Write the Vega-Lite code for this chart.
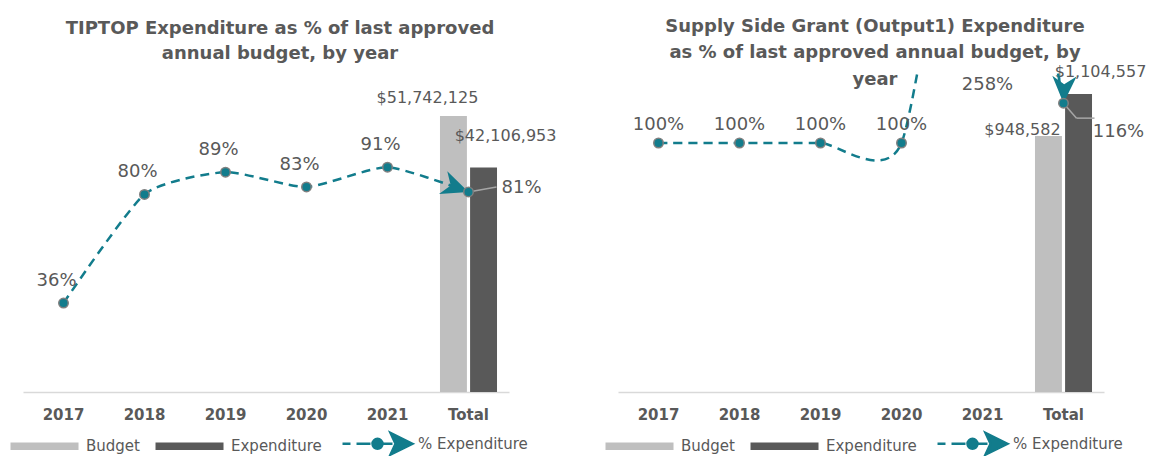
{
  "$schema": "https://vega.github.io/schema/vega-lite/v6.json",
  "background": "white",
  "padding": {"left": 23, "top": 17, "right": 2, "bottom": 0},
  "datasets": {
    "tiptop_bars": [
      {"year": "Total", "type": "Budget", "value": 51742125},
      {"year": "Total", "type": "Expenditure", "value": 42106953}
    ],
    "tiptop_pct": [
      {"year": "2017", "pct": 0.36},
      {"year": "2018", "pct": 0.80},
      {"year": "2019", "pct": 0.89},
      {"year": "2020", "pct": 0.83},
      {"year": "2021", "pct": 0.91},
      {"year": "Total", "pct": 0.81}
    ],
    "ssg_bars": [
      {"year": "Total", "type": "Budget", "value": 948582},
      {"year": "Total", "type": "Expenditure", "value": 1104557}
    ],
    "ssg_pct": [
      {"year": "2017", "pct": 1.00},
      {"year": "2018", "pct": 1.00},
      {"year": "2019", "pct": 1.00},
      {"year": "2020", "pct": 1.00},
      {"year": "2021", "pct": 2.58},
      {"year": "Total", "pct": 1.16}
    ]
  },
  "config": {
    "view": {"stroke": null},
    "font": "DejaVu Sans"
  },
  "bounds": "flush",
  "spacing": 109,
  "resolve": {
    "scale": {"color": "independent", "x": "independent", "y": "independent"},
    "legend": {"color": "independent"}
  },
  "hconcat": [
    {
      "width": 486,
      "height": 320,
      "title": {
        "text": ["TIPTOP Expenditure as % of last approved", "annual budget, by year"],
        "fontSize": 18, "fontWeight": "bold", "color": "#595959",
        "lineHeight": 25, "offset": 9, "anchor": "middle", "dx": 14
      },
      "encoding": {
        "x": {
          "field": "year", "type": "nominal",
          "scale": {"domain": ["2017", "2018", "2019", "2020", "2021", "Total"], "paddingInner": 0.296, "paddingOuter": 0.148},
          "axis": {
            "title": null, "labelAngle": 0, "labelFontSize": 15, "labelFontWeight": "bold",
            "labelColor": "#595959", "ticks": false, "labelPadding": 15,
            "domainColor": "#D9D9D9", "domainWidth": 1.5, "grid": false
          }
        }
      },
      "resolve": {"scale": {"y": "independent"}},
      "layer": [
        {
          "data": {"name": "tiptop_bars"},
          "mark": {"type": "bar"},
          "encoding": {
            "xOffset": {"field": "type", "scale": {"domain": ["Budget", "Expenditure"], "paddingInner": 0.105, "paddingOuter": 0}},
            "y": {"field": "value", "type": "quantitative", "scale": {"domain": [0, 59991000]}, "axis": null},
            "color": {
              "field": "type", "type": "nominal",
              "scale": {"domain": ["Budget", "Expenditure", "% Expenditure"], "range": ["#BFBFBF", "#595959", "#127C8C"]},
              "legend": {
                "orient": "bottom", "direction": "horizontal", "title": null,
                "labelFontSize": 15, "labelColor": "#595959", "symbolSize": 4624,
                "labelOffset": 48, "columnPadding": 15, "offset": 14, "symbolOpacity": 1,
                "encode": {
                  "symbols": {
                    "update": {
                      "shape": {"signal": "datum.value === '% Expenditure' ? 'M-0.588,0H-0.353M-0.176,0H0.235M0.588,0H0.882M1.471,0L0.824,-0.32L0.971,0L0.824,0.32ZM0.294,0a0.147,0.147 0 1,0 0.294,0a0.147,0.147 0 1,0 -0.294,0' : 'M-0.588,-0.32L-0.588,-0.32M-0.588,0.32L-0.588,0.32M-0.588,-0.11H1.412V0.11H-0.588Z'"},
                      "strokeWidth": {"signal": "datum.value === '% Expenditure' ? 2.5 : 0"},
                      "stroke": {"signal": "datum.value === '% Expenditure' ? '#127C8C' : null"}
                    }
                  }
                }
              }
            }
          }
        },
        {
          "data": {"name": "tiptop_bars"},
          "transform": [{"filter": "datum.type === 'Budget'"}],
          "mark": {"type": "text", "fontSize": 16, "color": "#595959", "dx": -26, "dy": -18},
          "encoding": {
            "xOffset": {"field": "type", "scale": {"domain": ["Budget", "Expenditure"], "paddingInner": 0.105, "paddingOuter": 0}},
            "y": {"field": "value", "type": "quantitative", "scale": {"domain": [0, 59991000]}, "axis": null},
            "text": {"field": "value", "type": "quantitative", "format": "$,.0f"}
          }
        },
        {
          "data": {"name": "tiptop_bars"},
          "transform": [{"filter": "datum.type === 'Expenditure'"}],
          "mark": {"type": "text", "fontSize": 16, "color": "#595959", "dx": 22, "dy": -31},
          "encoding": {
            "xOffset": {"field": "type", "scale": {"domain": ["Budget", "Expenditure"], "paddingInner": 0.105, "paddingOuter": 0}},
            "y": {"field": "value", "type": "quantitative", "scale": {"domain": [0, 59991000]}, "axis": null},
            "text": {"field": "value", "type": "quantitative", "format": "$,.0f"}
          }
        },
        {
          "data": {"name": "tiptop_pct"},
          "mark": {"type": "line", "color": "#127C8C", "strokeWidth": 2.5, "strokeDash": [9, 6], "interpolate": "cardinal", "tension": 0.4, "clip": true},
          "encoding": {
            "y": {"field": "pct", "type": "quantitative", "scale": {"domain": [0, 1.2955]}, "axis": null}
          }
        },
        {
          "data": {"name": "tiptop_pct"},
          "transform": [{"filter": "datum.year === 'Total'"}],
          "mark": {"type": "rule", "color": "#A6A6A6", "strokeWidth": 1.5, "x2Offset": 28, "y2Offset": -5},
          "encoding": {
            "y": {"field": "pct", "type": "quantitative", "scale": {"domain": [0, 1.2955]}, "axis": null},
            "x2": {"field": "year"},
            "y2": {"field": "pct"}
          }
        },
        {
          "data": {"name": "tiptop_pct"},
          "transform": [{"filter": "datum.year === 'Total'"}],
          "mark": {"type": "point", "shape": "M0,0L-1,-0.45L-0.7,0L-1,0.45Z", "angle": 20, "filled": true, "color": "#127C8C", "size": 2916, "opacity": 1},
          "encoding": {
            "y": {"field": "pct", "type": "quantitative", "scale": {"domain": [0, 1.2955]}, "axis": null}
          }
        },
        {
          "data": {"name": "tiptop_pct"},
          "mark": {"type": "point", "shape": "circle", "filled": true, "fill": "#127C8C", "stroke": "#7F7F7F", "strokeWidth": 1.5, "size": 90, "opacity": 1},
          "encoding": {
            "y": {"field": "pct", "type": "quantitative", "scale": {"domain": [0, 1.2955]}, "axis": null}
          }
        },
        {
          "data": {"name": "tiptop_pct"},
          "transform": [{"filter": "datum.year !== 'Total'"}],
          "mark": {"type": "text", "fontSize": 18, "color": "#595959", "dx": -7, "dy": -22},
          "encoding": {
            "y": {"field": "pct", "type": "quantitative", "scale": {"domain": [0, 1.2955]}, "axis": null},
            "text": {"field": "pct", "type": "quantitative", "format": ".0%"}
          }
        },
        {
          "data": {"name": "tiptop_pct"},
          "transform": [{"filter": "datum.year === 'Total'"}],
          "mark": {"type": "text", "fontSize": 18, "color": "#595959", "dx": 53, "dy": -4},
          "encoding": {
            "y": {"field": "pct", "type": "quantitative", "scale": {"domain": [0, 1.2955]}, "axis": null},
            "text": {"field": "pct", "type": "quantitative", "format": ".0%"}
          }
        }
      ]
    },
    {
      "width": 486,
      "height": 320,
      "title": {
        "text": ["Supply Side Grant (Output1) Expenditure", "as % of last approved annual budget, by", "year"],
        "fontSize": 18, "fontWeight": "bold", "color": "#595959",
        "lineHeight": 26.5, "offset": -25, "anchor": "middle", "dx": 14
      },
      "encoding": {
        "x": {
          "field": "year", "type": "nominal",
          "scale": {"domain": ["2017", "2018", "2019", "2020", "2021", "Total"], "paddingInner": 0.296, "paddingOuter": 0.148},
          "axis": {
            "title": null, "labelAngle": 0, "labelFontSize": 15, "labelFontWeight": "bold",
            "labelColor": "#595959", "ticks": false, "labelPadding": 15,
            "domainColor": "#D9D9D9", "domainWidth": 1.5, "grid": false
          }
        }
      },
      "resolve": {"scale": {"y": "independent"}},
      "layer": [
        {
          "data": {"name": "ssg_bars"},
          "mark": {"type": "bar"},
          "encoding": {
            "xOffset": {"field": "type", "scale": {"domain": ["Budget", "Expenditure"], "paddingInner": 0.105, "paddingOuter": 0}},
            "y": {"field": "value", "type": "quantitative", "scale": {"domain": [0, 1185728]}, "axis": null},
            "color": {
              "field": "type", "type": "nominal",
              "scale": {"domain": ["Budget", "Expenditure", "% Expenditure"], "range": ["#BFBFBF", "#595959", "#127C8C"]},
              "legend": {
                "orient": "bottom", "direction": "horizontal", "title": null,
                "labelFontSize": 15, "labelColor": "#595959", "symbolSize": 4624,
                "labelOffset": 48, "columnPadding": 15, "offset": 14, "symbolOpacity": 1,
                "encode": {
                  "symbols": {
                    "update": {
                      "shape": {"signal": "datum.value === '% Expenditure' ? 'M-0.588,0H-0.353M-0.176,0H0.235M0.588,0H0.882M1.471,0L0.824,-0.32L0.971,0L0.824,0.32ZM0.294,0a0.147,0.147 0 1,0 0.294,0a0.147,0.147 0 1,0 -0.294,0' : 'M-0.588,-0.32L-0.588,-0.32M-0.588,0.32L-0.588,0.32M-0.588,-0.11H1.412V0.11H-0.588Z'"},
                      "strokeWidth": {"signal": "datum.value === '% Expenditure' ? 2.5 : 0"},
                      "stroke": {"signal": "datum.value === '% Expenditure' ? '#127C8C' : null"}
                    }
                  }
                }
              }
            }
          }
        },
        {
          "data": {"name": "ssg_bars"},
          "transform": [{"filter": "datum.type === 'Budget'"}],
          "mark": {"type": "text", "fontSize": 16, "color": "#595959", "dx": -26, "dy": -6},
          "encoding": {
            "xOffset": {"field": "type", "scale": {"domain": ["Budget", "Expenditure"], "paddingInner": 0.105, "paddingOuter": 0}},
            "y": {"field": "value", "type": "quantitative", "scale": {"domain": [0, 1185728]}, "axis": null},
            "text": {"field": "value", "type": "quantitative", "format": "$,.0f"}
          }
        },
        {
          "data": {"name": "ssg_bars"},
          "transform": [{"filter": "datum.type === 'Expenditure'"}],
          "mark": {"type": "text", "fontSize": 16, "color": "#595959", "dx": 22, "dy": -22},
          "encoding": {
            "xOffset": {"field": "type", "scale": {"domain": ["Budget", "Expenditure"], "paddingInner": 0.105, "paddingOuter": 0}},
            "y": {"field": "value", "type": "quantitative", "scale": {"domain": [0, 1185728]}, "axis": null},
            "text": {"field": "value", "type": "quantitative", "format": "$,.0f"}
          }
        },
        {
          "data": {"name": "ssg_pct"},
          "mark": {"type": "line", "color": "#127C8C", "strokeWidth": 2.5, "strokeDash": [9, 6], "interpolate": "cardinal", "tension": 0.4, "clip": true},
          "encoding": {
            "y": {"field": "pct", "type": "quantitative", "scale": {"domain": [0, 1.2851]}, "axis": null}
          }
        },
        {
          "data": {"name": "ssg_pct"},
          "transform": [{"filter": "datum.year === 'Total'"}],
          "mark": {"type": "rule", "color": "#A6A6A6", "strokeWidth": 1.5, "x2Offset": 13, "y2Offset": 15},
          "encoding": {
            "y": {"field": "pct", "type": "quantitative", "scale": {"domain": [0, 1.2851]}, "axis": null},
            "x2": {"field": "year"},
            "y2": {"field": "pct"}
          }
        },
        {
          "data": {"name": "ssg_pct"},
          "transform": [{"filter": "datum.year === 'Total'"}],
          "mark": {"type": "rule", "color": "#A6A6A6", "strokeWidth": 1.5, "xOffset": 13, "yOffset": 15, "x2Offset": 31, "y2Offset": 15},
          "encoding": {
            "y": {"field": "pct", "type": "quantitative", "scale": {"domain": [0, 1.2851]}, "axis": null},
            "x2": {"field": "year"},
            "y2": {"field": "pct"}
          }
        },
        {
          "data": {"name": "ssg_pct"},
          "transform": [{"filter": "datum.year === 'Total'"}],
          "mark": {"type": "point", "shape": "M0,0L-1,-0.45L-0.7,0L-1,0.45Z", "angle": 92, "filled": true, "color": "#127C8C", "size": 2916, "opacity": 1},
          "encoding": {
            "y": {"field": "pct", "type": "quantitative", "scale": {"domain": [0, 1.2851]}, "axis": null}
          }
        },
        {
          "data": {"name": "ssg_pct"},
          "transform": [{"filter": "datum.year !== '2021'"}],
          "mark": {"type": "point", "shape": "circle", "filled": true, "fill": "#127C8C", "stroke": "#7F7F7F", "strokeWidth": 1.5, "size": 90, "opacity": 1},
          "encoding": {
            "y": {"field": "pct", "type": "quantitative", "scale": {"domain": [0, 1.2851]}, "axis": null}
          }
        },
        {
          "data": {"name": "ssg_pct"},
          "transform": [{"filter": "datum.year !== 'Total' && datum.year !== '2021'"}],
          "mark": {"type": "text", "fontSize": 18, "color": "#595959", "dy": -18},
          "encoding": {
            "y": {"field": "pct", "type": "quantitative", "scale": {"domain": [0, 1.2851]}, "axis": null},
            "text": {"field": "pct", "type": "quantitative", "format": ".0%"}
          }
        },
        {
          "data": {"name": "ssg_pct"},
          "transform": [{"filter": "datum.year === '2021'"}],
          "mark": {"type": "text", "fontSize": 18, "color": "#595959", "dx": 5, "dy": 13},
          "encoding": {
            "y": {"field": "pct", "type": "quantitative", "scale": {"domain": [0, 1.2851], "clamp": true}, "axis": null},
            "text": {"field": "pct", "type": "quantitative", "format": ".0%"}
          }
        },
        {
          "data": {"name": "ssg_pct"},
          "transform": [{"filter": "datum.year === 'Total'"}],
          "mark": {"type": "text", "fontSize": 18, "color": "#595959", "dx": 55, "dy": 29},
          "encoding": {
            "y": {"field": "pct", "type": "quantitative", "scale": {"domain": [0, 1.2851]}, "axis": null},
            "text": {"field": "pct", "type": "quantitative", "format": ".0%"}
          }
        }
      ]
    }
  ]
}
